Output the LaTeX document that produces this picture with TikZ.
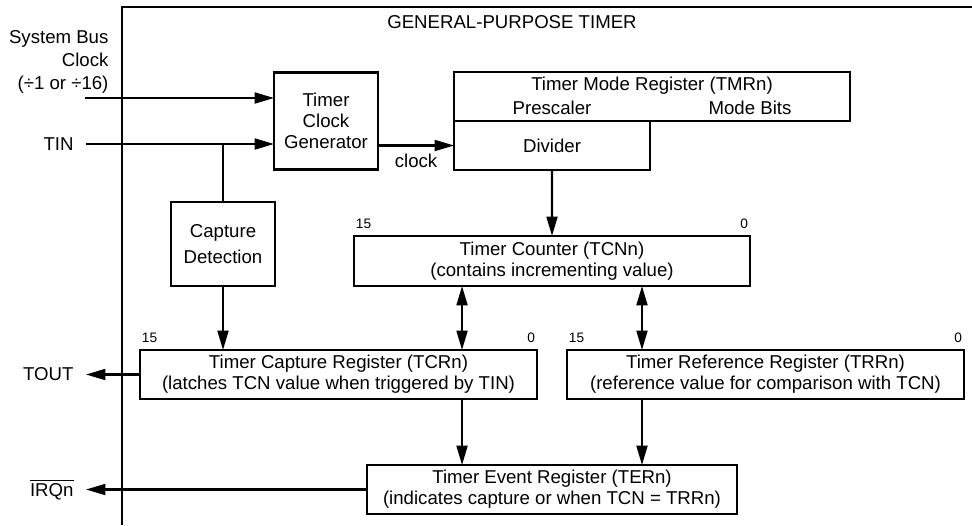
\documentclass[tikz,border=0pt]{standalone}
\usepackage{fontspec}
\setmainfont{Liberation Sans}
\usetikzlibrary{arrows.meta,positioning}

\begin{document}
\begin{tikzpicture}[x=0.02cm,y=-0.02cm,font=\fontsize{10.6}{12}\selectfont,inner sep=2pt,line width=1.2pt,
  box/.style={draw,outer sep=0pt,align=center,minimum height=0.98cm},
  bit/.style={font=\fontsize{7.8}{9}\selectfont,inner xsep=0.5pt,inner ysep=3.5pt},
  sig/.style={inner sep=6.5pt},
  >={Triangle[length=11pt,width=6.2pt]}]
\useasboundingbox (0,0) rectangle (972,525);
\draw (972,7) -- (122,7) -- (122,525);
\node (ttl) at (512,22) {GENERAL-PURPOSE TIMER};

\node [box,minimum width=2.08cm,minimum height=1.94cm] (tcg) at (326,121) {Timer\\Clock\\Generator};
\node [box,minimum width=2.08cm,minimum height=1.68cm] (cap) at (223,244) {Capture\\[3pt]Detection};
\node [box,minimum width=7.92cm] (tmr) at (652,96.5) {};
\node (tmrt) at (652,86) {Timer Mode Register (TMRn)};
\node (pre) at (552,108) {Prescaler};
\node (mode) at (750,108) {Mode Bits};
\node [box,minimum width=3.92cm,anchor=north west] (div) at (tmr.south west) {Divider};
\node [box,minimum width=7.92cm,minimum height=1cm,
  label={[bit,anchor=south west]north west:15},label={[bit,anchor=south east]north east:0}]
  (tcn) at (552,261) {Timer Counter (TCNn)\\(contains incrementing value)};
\node [box,minimum width=7.94cm,
  label={[bit,anchor=south west]north west:15},label={[bit,anchor=south east]north east:0}]
  (tcr) at (338.5,374.5) {Timer Capture Register (TCRn)\\(latches TCN value when triggered by TIN)};
\node [box,minimum width=7.94cm,
  label={[bit,anchor=south west]north west:15},label={[bit,anchor=south east]north east:0}]
  (trr) at (765.5,374.5) {Timer Reference Register (TRRn)\\(reference value for comparison with TCN)};
\node [box,minimum width=7.4cm] (ter) at (552,489.5) {Timer Event Register (TERn)\\(indicates capture or when TCN = TRRn)};

\node [align=right,anchor=east,font=\fontsize{10.6}{13.3}\selectfont] (sbc) at (113,62) {System Bus\\Clock\\(÷1 or ÷16)};
\coordinate (sbin) at (85,98);
\node [sig,anchor=east] (tin) at (86,144) {TIN};
\node [sig,anchor=east] (tout) at (86,374.5) {TOUT};
\node [sig,anchor=east] (irq) at (86,489.5) {$\overline{\mbox{IRQn}}$};

\draw [->] (sbin) -- (sbin -| tcg.west);
\draw [->] (tin) -- (tin -| tcg.west);
\draw (cap.north |- tin) -- (cap.north);
\draw [->] (cap) -- (cap |- tcr.north);
\draw [->] (div.west -| tcg.east) -- node [below=2.5pt] (clk) {clock} (div.west);
\draw [->] (div) -- (tcn);
\coordinate (l) at ([xshift=-1.8cm]tcn.south);
\coordinate (r) at ([xshift=1.8cm]tcn.south);
\draw [<->] (l) -- (l |- tcr.north);
\draw [<->] (r) -- (r |- trr.north);
\draw [->] (l |- tcr.south) -- (l |- ter.north);
\draw [->] (r |- trr.south) -- (r |- ter.north);
\draw [->] (tcr) -- (tout);
\draw [->] (ter) -- (irq);
\end{tikzpicture}
\end{document}
